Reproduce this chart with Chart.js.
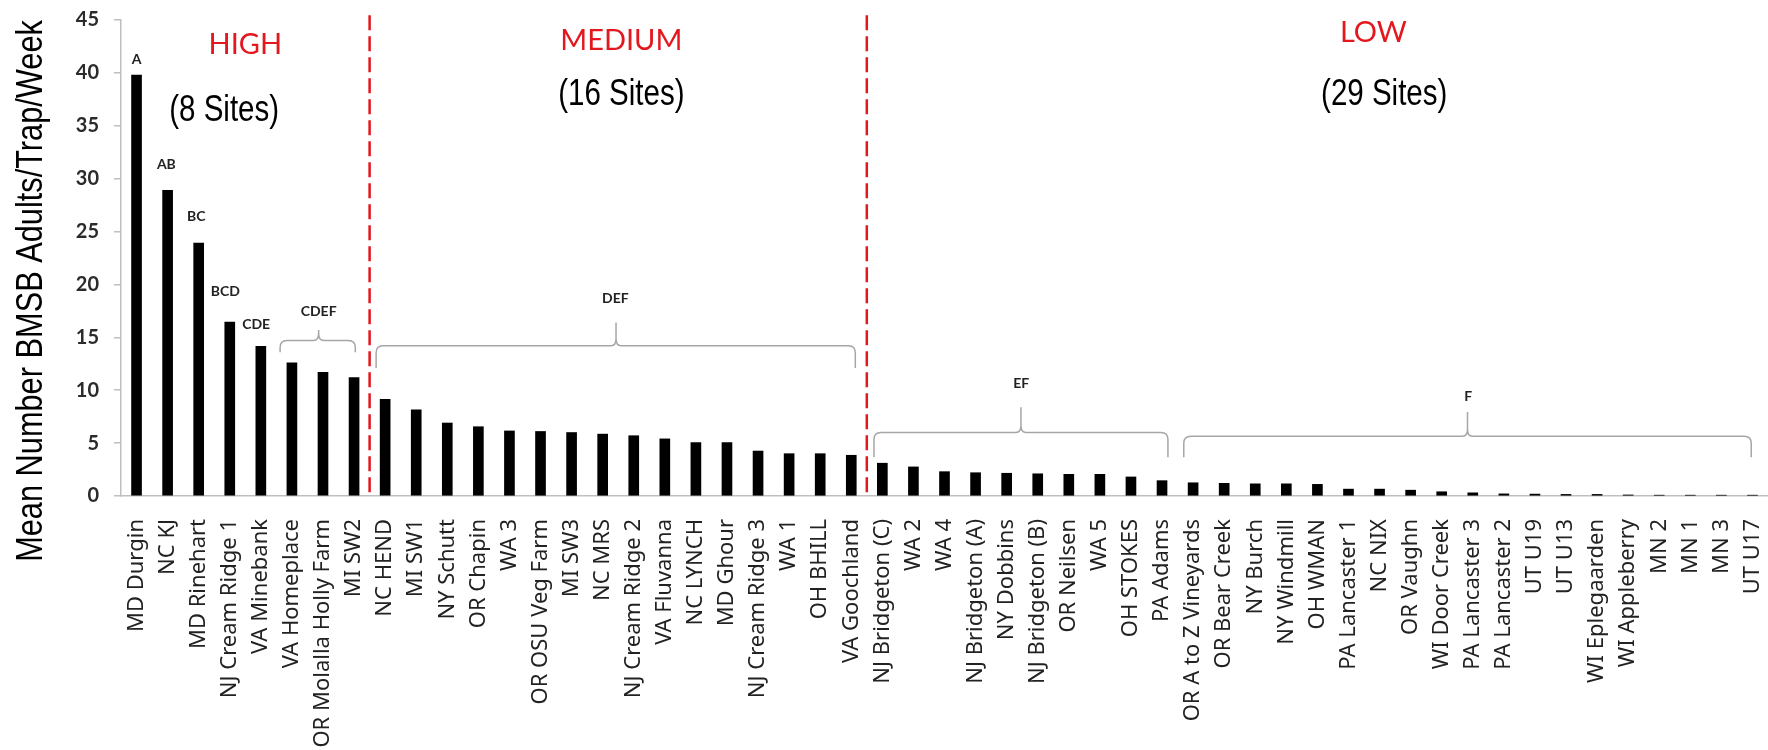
<!DOCTYPE html>
<html>
<head>
<meta charset="utf-8">
<script src="https://cdn.jsdelivr.net/npm/chart.js@4.4.0/dist/chart.umd.min.js"></script>
<style>
  html, body { margin: 0; padding: 0; background: #fff; }
  canvas { display: block; }
</style>
</head>
<body>
<canvas id="chart" width="1768" height="750"></canvas>
<script>
const sites = [
  'MD Durgin', 'NC KJ', 'MD Rinehart', 'NJ Cream Ridge 1', 'VA Minebank', 'VA Homeplace',
  'OR Molalla Holly Farm', 'MI SW2', 'NC HEND', 'MI SW1', 'NY Schutt', 'OR Chapin', 'WA 3',
  'OR OSU Veg Farm', 'MI SW3', 'NC MRS', 'NJ Cream Ridge 2', 'VA Fluvanna', 'NC LYNCH',
  'MD Ghour', 'NJ Cream Ridge 3', 'WA 1', 'OH BHILL', 'VA Goochland', 'NJ Bridgeton (C)',
  'WA 2', 'WA 4', 'NJ Bridgeton (A)', 'NY Dobbins', 'NJ Bridgeton (B)', 'OR Neilsen', 'WA 5',
  'OH STOKES', 'PA Adams', 'OR A to Z Vineyards', 'OR Bear Creek', 'NY Burch', 'NY Windmill',
  'OH WMAN', 'PA Lancaster 1', 'NC NIX', 'OR Vaughn', 'WI Door Creek', 'PA Lancaster 3',
  'PA Lancaster 2', 'UT U19', 'UT U13', 'WI Eplegaarden', 'WI Appleberry', 'MN 2', 'MN 1',
  'MN 3', 'UT U17'
];

const meanCounts = [
  39.8, 28.9, 23.9, 16.45, 14.15, 12.6, 11.7, 11.2,
  9.15, 8.15, 6.9, 6.55, 6.15, 6.1, 6.0, 5.85, 5.7, 5.4, 5.05, 5.05, 4.25, 4.0, 4.0, 3.85,
  3.1, 2.75, 2.3, 2.2, 2.15, 2.1, 2.05, 2.05, 1.8, 1.45, 1.25, 1.2, 1.15, 1.15, 1.1,
  0.65, 0.65, 0.55, 0.4, 0.3, 0.2, 0.18, 0.15, 0.15, 0.1, 0.08, 0.08, 0.08, 0.08
];

const yTicks = [0, 5, 10, 15, 20, 25, 30, 35, 40, 45];

const pressureClasses = ['HIGH', 'MEDIUM', 'LOW'];
const classSiteCounts = [8, 16, 29];

// mean separation letters: text, first site, last site
const letterText = ['A', 'AB', 'BC', 'BCD', 'CDE', 'CDEF', 'DEF', 'EF', 'F'];
const letterFirst = [0, 1, 2, 3, 4, 5, 8, 24, 34];
const letterLast = [0, 1, 2, 3, 4, 7, 23, 33, 52];

const yTitle = 'Mean Number BMSB Adults/Trap/Week';

const RED = '#e3171e';
const GRAY_AXIS = '#bfbfbf';

// where the annotation text sits, in scale units (x = site index, y = value)
const letterPos = [
  [0, 41.3], [0.96, 31.3], [1.92, 26.4], [2.86, 19.3], [3.85, 16.2],
  [5.86, 17.4], [15.41, 18.7], [28.47, 10.65], [42.85, 9.43]
];
// brace: left, right, peak x; line, end, peak y
const braceShape = {
  5: [4.62, 7.04, 5.86, 14.7, 13.6, 15.7],
  6: [7.71, 23.13, 15.43, 14.2, 12.1, 16.4],
  7: [23.73, 33.19, 28.46, 6.0, 3.66, 8.4],
  8: [33.70, 51.96, 42.83, 5.65, 3.66, 7.95]
};
const classNamePos = [[3.5, 41.8], [15.6, 42.17], [39.8, 42.92]];
const classCountPos = [[2.82, 35.45], [15.6, 36.97], [40.15, 37.0]];

function drawBrace(ctx, x0, x1, xp, yLine, yEnd, yPeak) {
  ctx.beginPath();
  ctx.moveTo(x0, yEnd);
  ctx.lineTo(x0, yLine + 7);
  ctx.quadraticCurveTo(x0, yLine, x0 + 7, yLine);
  ctx.lineTo(xp - 5, yLine);
  ctx.quadraticCurveTo(xp, yLine, xp, yLine - 7);
  ctx.lineTo(xp, yPeak);
  ctx.moveTo(xp, yLine - 7);
  ctx.quadraticCurveTo(xp, yLine, xp + 5, yLine);
  ctx.lineTo(x1 - 7, yLine);
  ctx.quadraticCurveTo(x1, yLine, x1, yLine + 7);
  ctx.lineTo(x1, yEnd);
  ctx.stroke();
}

// narrow sans text (horizontal squeeze of Liberation Sans)
function narrowText(ctx, text, x, y, size, rot) {
  ctx.save();
  ctx.translate(x, y);
  if (rot) ctx.rotate(rot);
  ctx.scale(0.82, 1);
  ctx.font = size + 'px "Liberation Sans", Arial, sans-serif';
  ctx.fillStyle = '#000';
  ctx.textAlign = 'center';
  ctx.textBaseline = 'alphabetic';
  ctx.fillText(text, 0, 0);
  ctx.restore();
}

const annotations = {
  id: 'annotations',
  afterDatasetsDraw(chart) {
    const ctx = chart.ctx;
    const xs = chart.scales.x;
    const ys = chart.scales.y;
    const area = chart.chartArea;

    // dashed dividers between pressure classes
    ctx.save();
    ctx.strokeStyle = RED;
    ctx.lineWidth = 2.5;
    ctx.setLineDash([15, 6]);
    let edge = -0.5;
    for (let i = 0; i < classSiteCounts.length - 1; i++) {
      edge += classSiteCounts[i];
      const x = xs.getPixelForValue(edge);
      ctx.beginPath();
      ctx.moveTo(x, ys.getPixelForValue(45.45));
      ctx.lineTo(x, area.bottom);
      ctx.stroke();
    }
    ctx.restore();

    // class names and site counts
    ctx.save();
    ctx.font = '29px Lato, sans-serif';
    ctx.fillStyle = RED;
    ctx.textAlign = 'center';
    ctx.textBaseline = 'alphabetic';
    pressureClasses.forEach((name, i) => {
      ctx.fillText(name, xs.getPixelForValue(classNamePos[i][0]), ys.getPixelForValue(classNamePos[i][1]));
    });
    ctx.restore();
    classSiteCounts.forEach((n, i) => {
      narrowText(ctx, '(' + n + ' Sites)', xs.getPixelForValue(classCountPos[i][0]),
        ys.getPixelForValue(classCountPos[i][1]), 36);
    });

    // letters and braces
    ctx.save();
    ctx.font = 'bold 14px Lato, sans-serif';
    ctx.fillStyle = '#222';
    ctx.textAlign = 'center';
    ctx.textBaseline = 'middle';
    letterText.forEach((t, i) => {
      ctx.fillText(t, xs.getPixelForValue(letterPos[i][0]), ys.getPixelForValue(letterPos[i][1]));
      const b = braceShape[i];
      if (b && letterLast[i] > letterFirst[i]) {
        ctx.strokeStyle = '#a6a6a6';
        ctx.lineWidth = 1.5;
        drawBrace(ctx, xs.getPixelForValue(b[0]), xs.getPixelForValue(b[1]), xs.getPixelForValue(b[2]),
          ys.getPixelForValue(b[3]), ys.getPixelForValue(b[4]), ys.getPixelForValue(b[5]));
      }
    });
    ctx.restore();

    // y axis title
    narrowText(ctx, yTitle, 42, 291, 37.5, -Math.PI / 2);
  }
};

new Chart(document.getElementById('chart'), {
  type: 'bar',
  data: {
    labels: sites,
    datasets: [{
      data: meanCounts,
      backgroundColor: '#000',
      barThickness: 10
    }]
  },
  options: {
    responsive: false,
    animation: false,
    devicePixelRatio: 1,
    layout: { padding: { top: 20, left: 0, right: 0, bottom: 0 } },
    plugins: {
      legend: { display: false },
      tooltip: { enabled: false }
    },
    scales: {
      x: {
        grid: { display: false },
        border: { color: GRAY_AXIS, width: 1.5 },
        ticks: {
          autoSkip: false,
          minRotation: 90,
          maxRotation: 90,
          padding: 15,
          color: '#222',
          font: { family: '"Noto Sans", sans-serif', size: 22 }
        },
        afterFit(scale) {
          scale.height = 254;
          scale.paddingLeft = 0;
          scale.paddingRight = 0;
        }
      },
      y: {
        min: 0,
        max: 45,
        afterBuildTicks(scale) {
          scale.ticks = yTicks.map(v => ({ value: v }));
        },
        grid: {
          drawOnChartArea: false,
          drawTicks: true,
          tickLength: 7,
          color: GRAY_AXIS,
          lineWidth: 1.5
        },
        border: { color: GRAY_AXIS, width: 1.5 },
        ticks: {
          padding: 15,
          color: '#2b2b2b',
          font: { family: 'Lato, sans-serif', size: 20, weight: 'bold' }
        },
        afterFit(scale) {
          scale.width = 121;
          scale.paddingTop = 0;
          scale.paddingBottom = 0;
        }
      }
    }
  },
  plugins: [annotations]
});
</script>
</body>
</html>
